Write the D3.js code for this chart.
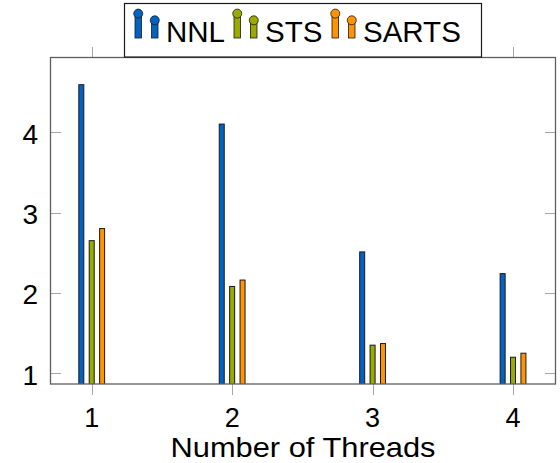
<!DOCTYPE html>
<html>
<head>
<meta charset="utf-8">
<script src="https://cdn.jsdelivr.net/npm/d3@7"></script>
<style>
  html, body { margin: 0; padding: 0; background: #fff; }
  svg { display: block; }
  text { font-family: "Liberation Sans", Arial, Helvetica, sans-serif; fill: #000; }
</style>
</head>
<body>
<svg id="chart" width="560" height="463"></svg>
<script>
// ---- data ----
const threads = [1, 2, 3, 4];
const seriesNames = ["NNL", "STS", "SARTS"];
const nnlValues = [4.59, 4.10, 2.51, 2.24];
const stsValues = [2.65, 2.08, 1.35, 1.20];
const sartsValues = [2.80, 2.16, 1.37, 1.25];
const yTickValues = [1, 2, 3, 4];
const xTickValues = [1, 2, 3, 4];
const xLabel = "Number of Threads";
const seriesColors = ["#0063c4", "#9aab00", "#ff9300"];

const seriesValues = [nnlValues, stsValues, sartsValues];

// ---- layout ----
const svg = d3.select("#chart");
const L = 50, R = 556, T = 57.5, B = 384;

const x = d3.scaleLinear().domain([0.703, 4.306]).range([L, R]);
const y = d3.scaleLinear().domain([0.867, 4.928]).range([B, T]);
const xOff = d3.scalePoint().domain(seriesNames).range([-10.4, 10.4]);
const color = d3.scaleOrdinal().domain(seriesNames).range(seriesColors);
const barW = 5;

svg.append("clipPath").attr("id", "plotclip")
  .append("rect").attr("x", L).attr("y", T).attr("width", R - L).attr("height", B - T);

// bars
const rows = [];
seriesNames.forEach((s, si) => {
  threads.forEach((t, ti) => rows.push({ s, t, v: seriesValues[si][ti] }));
});
svg.append("g").attr("clip-path", "url(#plotclip)")
  .selectAll("rect").data(rows).join("rect")
  .attr("x", d => x(d.t) + xOff(d.s) - barW / 2)
  .attr("y", d => y(d.v))
  .attr("width", barW)
  .attr("height", d => y.range()[0] - y(d.v) + 2)
  .attr("fill", d => color(d.s))
  .attr("stroke", "#1a1a1a")
  .attr("stroke-width", 1);

// ticks
const tickColor = "#a6a6a6";
const gT = svg.append("g");
gT.selectAll("line.yl").data(yTickValues).join("line").attr("class", "yl")
  .attr("x1", L).attr("x2", L + 11)
  .attr("y1", d => Math.round(y(d)) + 0.5).attr("y2", d => Math.round(y(d)) + 0.5)
  .attr("stroke", tickColor);
gT.selectAll("line.yr").data(yTickValues).join("line").attr("class", "yr")
  .attr("x1", R - 11).attr("x2", R)
  .attr("y1", d => Math.round(y(d)) + 0.5).attr("y2", d => Math.round(y(d)) + 0.5)
  .attr("stroke", tickColor);
gT.selectAll("line.xb").data(xTickValues).join("line").attr("class", "xb")
  .attr("x1", d => Math.round(x(d)) + 0.5).attr("x2", d => Math.round(x(d)) + 0.5)
  .attr("y1", B).attr("y2", B + 11)
  .attr("stroke", tickColor);
gT.selectAll("line.xt").data(xTickValues).join("line").attr("class", "xt")
  .attr("x1", d => Math.round(x(d)) + 0.5).attr("x2", d => Math.round(x(d)) + 0.5)
  .attr("y1", T - 10.5).attr("y2", T)
  .attr("stroke", tickColor);

// frame
svg.append("rect")
  .attr("x", L + 0.5).attr("y", T).attr("width", R - L - 1).attr("height", B - T)
  .attr("fill", "none").attr("stroke", "#5e5e5e").attr("stroke-width", 1.3);

// tick labels
svg.append("g").selectAll("text").data(yTickValues).join("text")
  .attr("x", 38).attr("y", d => y(d) + 11.5)
  .attr("text-anchor", "end").attr("font-size", 28)
  .text(d => d);
svg.append("g").selectAll("text").data(xTickValues).join("text")
  .attr("x", d => x(d)).attr("y", 426.5)
  .attr("text-anchor", "middle").attr("font-size", 27)
  .text(d => d);

// axis label
svg.append("text").attr("x", (L + R) / 2).attr("y", 457)
  .attr("text-anchor", "middle").attr("font-size", 28)
  .attr("textLength", 265).attr("lengthAdjust", "spacingAndGlyphs")
  .text(xLabel);

// legend
const lg = svg.append("g");
lg.append("rect").attr("x", 124.5).attr("y", 3.5).attr("width", 357).attr("height", 53.5)
  .attr("fill", "#fff").attr("stroke", "#1a1a1a").attr("stroke-width", 1.2);
const legendX = [135, 234, 332];
seriesNames.forEach((s, i) => {
  const x0 = legendX[i];
  const g = lg.append("g");
  g.append("rect").attr("x", x0).attr("y", 14).attr("width", 6.5).attr("height", 24)
    .attr("fill", color(s)).attr("stroke", "#1a1a1a").attr("stroke-width", 0.8);
  g.append("circle").attr("cx", x0 + 3.25).attr("cy", 13.6).attr("r", 4.5)
    .attr("fill", color(s)).attr("stroke", "#1a1a1a").attr("stroke-width", 0.8);
  g.append("rect").attr("x", x0 + 16.5).attr("y", 20.5).attr("width", 6.5).attr("height", 17.5)
    .attr("fill", color(s)).attr("stroke", "#1a1a1a").attr("stroke-width", 0.8);
  g.append("circle").attr("cx", x0 + 19.75).attr("cy", 20.3).attr("r", 4.5)
    .attr("fill", color(s)).attr("stroke", "#1a1a1a").attr("stroke-width", 0.8);
  g.append("text").attr("x", x0 + 31).attr("y", 41.5)
    .attr("font-size", 29.5).text(s);
});
</script>
</body>
</html>
